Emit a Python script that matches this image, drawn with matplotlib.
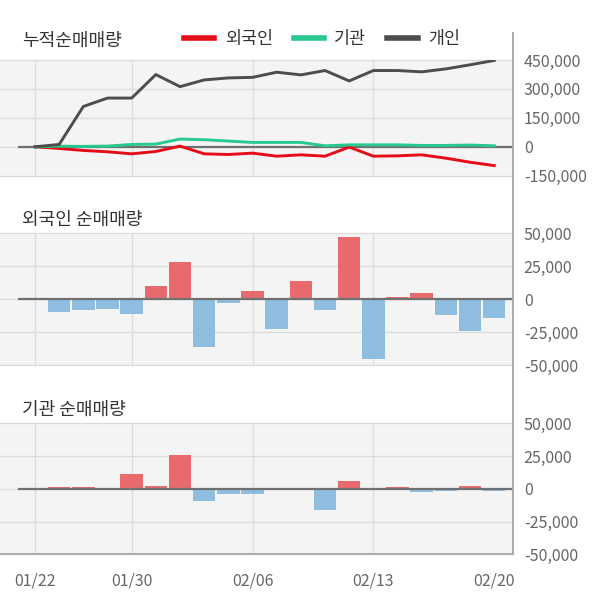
import numpy as np
import matplotlib
matplotlib.use("Agg")
import matplotlib.pyplot as plt
from matplotlib.lines import Line2D

plt.rcParams["font.family"] = ["Noto Sans CJK KR", "DejaVu Sans"]

DATES = ["01/22", "01/23", "01/28", "01/29", "01/30", "01/31", "02/03", "02/04",
         "02/05", "02/06", "02/07", "02/10", "02/11", "02/12", "02/13", "02/14",
         "02/17", "02/18", "02/19", "02/20"]
DATE_TICKS = [0, 4, 9, 14, 19]
VGRID = [0, 4, 9, 14]

# cumulative net buying (shares)
cum_foreign = [0, -8700, -19000, -26000, -36600, -24400, 3500, -36600, -40000, -33000,
               -48800, -41800, -48800, -1700, -48800, -47000, -41800, -59200, -80100, -97500]
cum_inst = [0, 3000, 2000, 3500, 12000, 14000, 40000, 36600, 29600, 22600,
            22600, 22600, 5000, 10000, 10000, 10000, 7000, 7000, 9000, 5000]
cum_indiv = [0, 12000, 209000, 252600, 252600, 374500, 311800, 346700, 357000, 360000,
             386700, 372800, 395400, 341400, 395400, 395400, 388500, 404000, 425000, 447700]

# daily net buying (shares)
foreign = [0, -10000, -8400, -7600, -11500, 9700, 28000, -36200, -3000, 5900,
           -22900, 13500, -7900, 47100, -45100, 1300, 4300, -12200, -24500, -14500]
inst = [0, 1000, 1000, 0, 11000, 2500, 25800, -9200, -4100, -4100,
        -1200, 0, -16000, 5900, 0, 1000, -2400, -1500, 2000, -1600]

LINE_COLORS = {"외국인": "#e50c17", "기관": "#27c98f", "개인": "#4d4d4d"}
UP, DOWN = "#e86a6c", "#8fbde0"
BG, GRID, ZERO, AXIS = "#f4f4f4", "#dcdcdc", "#707070", "#aaaaaa"
TXT, TICK = "#333333", "#666666"

W, H = 600, 604
XL = (-35 / 24.17, (512.7 - 35) / 24.17)

fig = plt.figure(figsize=(W / 100, H / 100), dpi=100)


def panel(top, bottom, ylim, yticks):
    ax = fig.add_axes([0, 1 - bottom / H, 512.7 / W, (bottom - top) / H])
    ax.set_facecolor(BG)
    ax.set_xlim(*XL)
    ax.set_ylim(*ylim)
    for s in ax.spines.values():
        s.set_visible(False)
    ax.yaxis.tick_right()
    ax.set_yticks(yticks)
    ax.set_yticklabels([f"{v:,}" for v in yticks], fontsize=11.5, color=TICK)
    ax.tick_params(axis="y", length=0, pad=8)
    ax.set_xticks(DATE_TICKS)
    ax.set_xticklabels([])
    ax.tick_params(axis="x", length=0)
    for v in yticks:
        ax.axhline(v, color=GRID, lw=1.0, zorder=0, clip_on=False)
    for i in VGRID:
        ax.axvline(i, color=GRID, lw=0.9, zorder=0)
    ax.plot([-0.69, XL[1]], [0, 0], color=ZERO, lw=1.6, zorder=2, solid_capstyle="butt")
    return ax


x = np.arange(len(DATES))

# cumulative panel
ax1 = panel(60, 175.7, (-150000, 450000), [450000, 300000, 150000, 0, -150000])
for name, vals in [("외국인", cum_foreign), ("기관", cum_inst), ("개인", cum_indiv)]:
    ax1.plot(x, vals, color=LINE_COLORS[name], lw=2.1, zorder=3, label=name)
leg = ax1.legend(loc="center", bbox_to_anchor=(322 / W, 1 - 39 / H),
                 bbox_transform=fig.transFigure, ncol=3, frameon=False,
                 fontsize=12.5, handlelength=1.75, handletextpad=0.6,
                 columnspacing=1.2, labelcolor=TXT)
for h in leg.get_lines():
    h.set_linewidth(4)
fig.text(22.5 / W, 1 - 41 / H, "누적순매매량", fontsize=13, color=TXT, va="center")

# daily panels
for top, bottom, vals, title, ty in [(233.3, 365, foreign, "외국인 순매매량", 220),
                                     (423.3, 554.3, inst, "기관 순매매량", 410)]:
    ax = panel(top, bottom, (-50000, 50000), [50000, 25000, 0, -25000, -50000])
    colors = [UP if v > 0 else DOWN for v in vals]
    ax.bar(x, vals, width=0.93, color=colors, zorder=1)
    fig.text(22.5 / W, 1 - ty / H, title, fontsize=13, color=TXT, va="center")

ax.set_xticklabels([DATES[i] for i in DATE_TICKS], fontsize=11.5, color=TICK)
ax.tick_params(axis="x", pad=13)

# frame lines: right axis and bottom border
fig.add_artist(Line2D([512.7 / W, 512.7 / W], [1 - 33 / H, 1 - 554.3 / H],
                      color=AXIS, lw=1.4, transform=fig.transFigure))
fig.add_artist(Line2D([0, 513.4 / W], [1 - 554.3 / H, 1 - 554.3 / H],
                      color=AXIS, lw=1.4, transform=fig.transFigure))

fig.savefig("out.png", dpi=100, facecolor="white")
